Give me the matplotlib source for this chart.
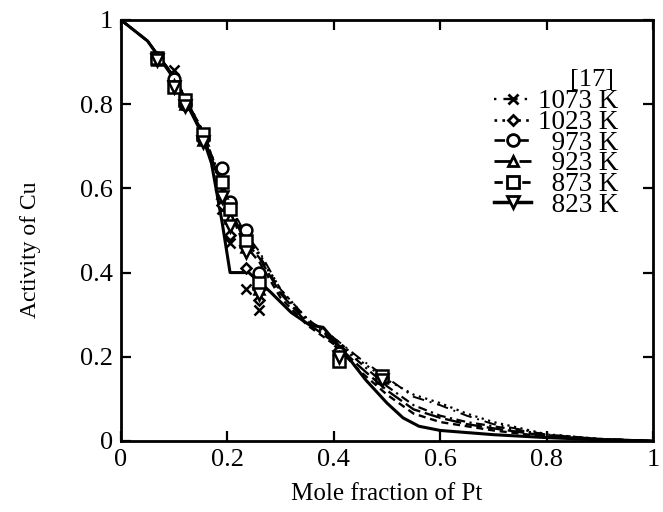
import matplotlib
matplotlib.use("Agg")
import matplotlib.pyplot as plt
from matplotlib.lines import Line2D
from matplotlib.ticker import FuncFormatter

plt.rcParams['font.family'] = ['Liberation Serif', 'DejaVu Serif']

labels = ["1073 K", "1023 K", "973 K", "923 K", "873 K", "823 K"]

# model curves
x_curve = [0, 0.05, 0.10, 0.15, 0.19, 0.21, 0.23, 0.26, 0.30, 0.35, 0.40, 0.45,
           0.50, 0.55, 0.60, 0.65, 0.70, 0.80, 0.90, 1.0]
y_1073 = [1, 0.95, 0.865, 0.745, 0.615, 0.55, 0.50, 0.45, 0.36, 0.29, 0.245, 0.195,
          0.15, 0.105, 0.085, 0.06, 0.04, 0.015, 0.005, 0]
y_1023 = [1, 0.95, 0.865, 0.745, 0.615, 0.55, 0.495, 0.445, 0.36, 0.29, 0.245, 0.19,
          0.145, 0.11, 0.09, 0.065, 0.045, 0.016, 0.005, 0]
y_973 = [1, 0.95, 0.865, 0.745, 0.61, 0.545, 0.49, 0.44, 0.355, 0.285, 0.24, 0.185,
         0.13, 0.085, 0.06, 0.045, 0.035, 0.015, 0.005, 0]
y_923 = [1, 0.95, 0.865, 0.74, 0.605, 0.54, 0.48, 0.435, 0.35, 0.28, 0.235, 0.175,
         0.12, 0.075, 0.055, 0.04, 0.03, 0.012, 0.004, 0]
y_873 = [1, 0.95, 0.865, 0.74, 0.60, 0.53, 0.47, 0.425, 0.34, 0.275, 0.23, 0.165,
         0.11, 0.065, 0.045, 0.035, 0.025, 0.01, 0.004, 0]
x_823 = [0, 0.05, 0.10, 0.15, 0.17, 0.19, 0.205, 0.24, 0.28, 0.32, 0.355, 0.38, 0.42,
         0.46, 0.50, 0.53, 0.56, 0.60, 0.70, 0.80, 0.90, 1.0]
y_823 = [1, 0.95, 0.86, 0.735, 0.66, 0.52, 0.40, 0.40, 0.355, 0.305, 0.275, 0.27, 0.21,
         0.145, 0.09, 0.055, 0.035, 0.025, 0.015, 0.008, 0.003, 0]

# experimental points
x_exp = [0.068, 0.10, 0.12, 0.155, 0.19, 0.205, 0.235, 0.26, 0.41, 0.49]
e_1073 = [0.91, 0.88, 0.80, 0.715, 0.55, 0.47, 0.36, 0.31, 0.215, 0.15]
e_1023 = [0.905, 0.85, 0.795, 0.715, 0.56, 0.49, 0.41, 0.335, 0.205, 0.15]
e_973 = [0.91, 0.86, 0.80, 0.72, 0.648, 0.568, 0.50, 0.40, 0.21, 0.15]
e_923 = [0.905, 0.845, 0.80, 0.715, 0.59, 0.53, 0.46, 0.36, 0.20, 0.15]
e_873 = [0.91, 0.84, 0.81, 0.73, 0.615, 0.55, 0.475, 0.375, 0.19, 0.155]
e_823 = [0.905, 0.84, 0.795, 0.71, 0.58, 0.51, 0.45, 0.35, 0.20, 0.145]

xs = [x_curve, x_curve, x_curve, x_curve, x_curve, x_823]
ys = [y_1073, y_1023, y_973, y_923, y_873, y_823]
es = [e_1073, e_1023, e_973, e_923, e_873, e_823]

styles = [
    dict(ls=(0, (1, 3, 6, 3)), lw=1.4, marker='x', ms=7.5),
    dict(ls=(0, (1, 2)), lw=1.6, marker='D', ms=5.5),
    dict(ls=(0, (4, 2, 1, 2)), lw=1.6, marker='o', ms=8.5),
    dict(ls=(0, (7, 2)), lw=1.7, marker='^', ms=7.5),
    dict(ls=(0, (3, 2)), lw=1.7, marker='s', ms=8.5),
    dict(ls='-', lw=2.2, marker='v', ms=8.5),
]

fig = plt.figure(figsize=(6.63, 5.12), dpi=100)
ax = fig.add_axes([0.1825, 0.1387, 0.8025, 0.8223])

handles = []
for x, y, e, st in zip(xs, ys, es, styles):
    ax.plot(x, y, color='black', ls=st['ls'], lw=st['lw'], zorder=2)
    ax.plot(x_exp, e, ls='none', marker=st['marker'], ms=st['ms'],
            mfc='white', mec='black', mew=1.8, zorder=3)
    handles.append(Line2D([], [], color='black', ls=st['ls'], lw=st['lw'] + 0.3,
                          marker=st['marker'], ms=st['ms'], mfc='white',
                          mec='black', mew=2.0))

ax.set_xlim(0, 1)
ax.set_ylim(0, 1)
ticks = [0, 0.2, 0.4, 0.6, 0.8, 1.0]
ax.set_xticks(ticks)
ax.set_yticks(ticks)
fmt = FuncFormatter(lambda v, p: "%g" % v)
ax.xaxis.set_major_formatter(fmt)
ax.yaxis.set_major_formatter(fmt)
ax.tick_params(direction='in', top=True, right=True, length=7, width=1.6,
               labelsize=19, pad=6)
for s in ax.spines.values():
    s.set_linewidth(2.0)

ax.set_xlabel("Mole fraction of Pt", fontsize=18)
ax.xaxis.set_label_coords(0.5, -0.10)
ax.set_ylabel("Activity of Cu", fontsize=17)
ax.yaxis.set_label_coords(-0.15, 0.454)

pad_labels = ["1073 K", "1023 K", "\u2007973 K", "\u2007923 K", "\u2007873 K", "\u2007823 K"]
leg = ax.legend(handles, pad_labels, loc='upper right', bbox_to_anchor=(0.955, 0.861),
                frameon=False, fontsize=19.5, labelspacing=-0.16, handlelength=1.35,
                handletextpad=0.25, borderaxespad=0)
ax.text(0.885, 0.857, "[17]", transform=ax.transAxes, fontsize=19,
        ha='center', va='center')

fig.savefig("out.png", dpi=100)
